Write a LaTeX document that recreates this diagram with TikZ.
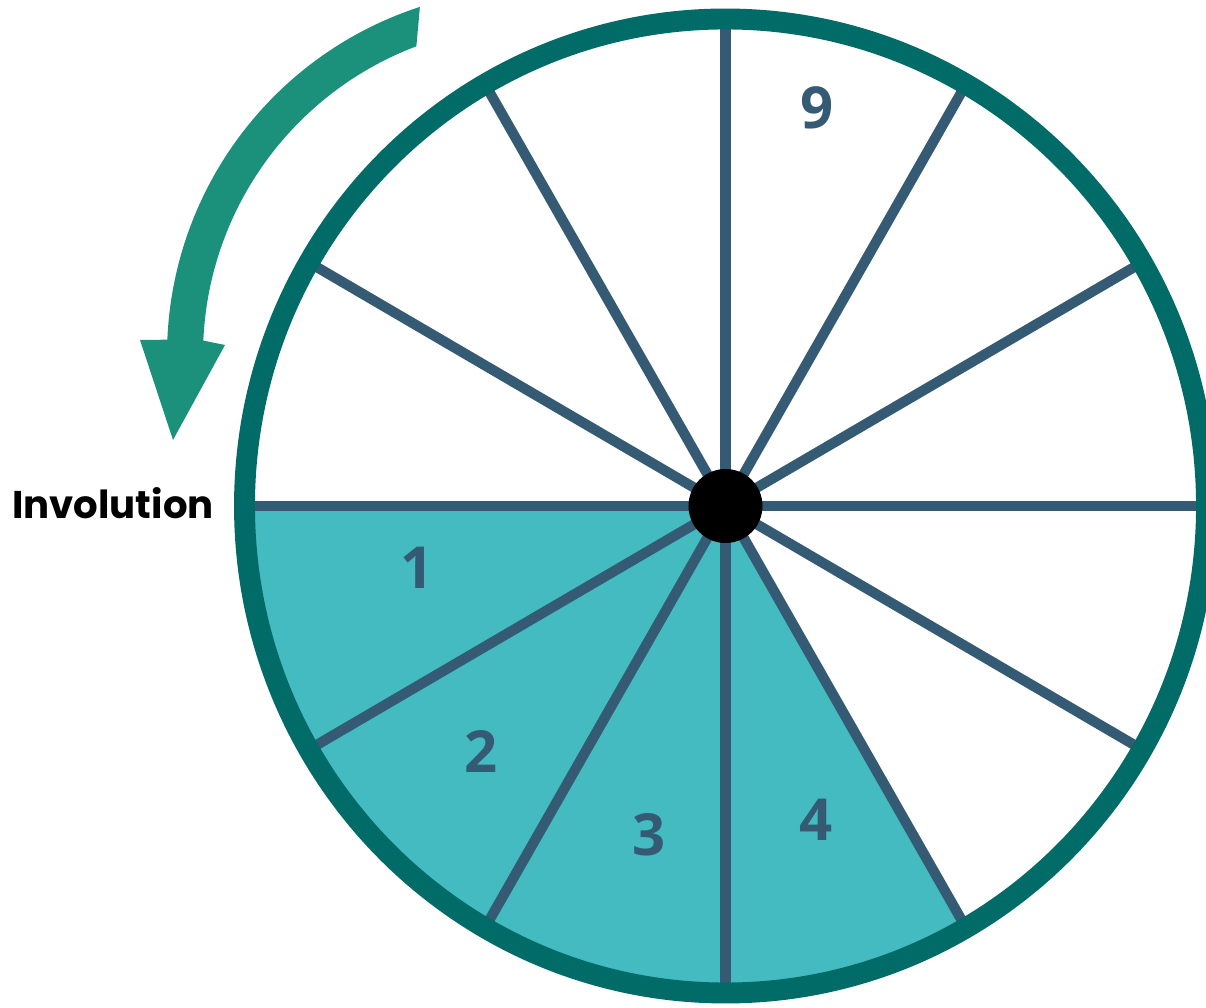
\documentclass[tikz,border=0pt]{standalone}
\usepackage{fontspec}
\usepackage{tikz}
\usetikzlibrary{positioning}
\newfontfamily\wnumfont{Open Sans}
\newfontfamily\wtextfont{Poppins}
\definecolor{wrim}  {HTML}{006B67}
\definecolor{wspoke}{HTML}{345A74}
\definecolor{wfill} {HTML}{43BBC0}
\definecolor{warrow}{HTML}{1B917B}
\tikzset{
  wrim/.style={draw=wrim, line width=11.9pt},
  wspoke/.style={draw=wspoke, line width=5.8pt},
  wsector/.style={fill=wfill},
  wnum/.style={text=wspoke, font=\wnumfont\bfseries\fontsize{33}{35}\selectfont, inner sep=0pt},
  wlabel/.style={text=black, font=\wtextfont\bfseries\fontsize{22}{25}\selectfont, inner sep=0pt},
  warrowshape/.style={fill=warrow},
}
\begin{document}
\begin{tikzpicture}[x=0.02cm,y=0.02cm]
  \useasboundingbox (0,0) rectangle (1206,1007);
  \coordinate (hub) at (725.5,501);
  \coordinate (bend) at (533,652);
  % the four shaded slices
  \fill[wsector] (hub) -- ++(180:481 and 487)
    arc[start angle=180, end angle=300, x radius=481, y radius=487] -- cycle;
  % spokes
  \foreach \a in {0,30,...,330}
    \draw[wspoke] (hub) -- ++(\a:481 and 487);
  % rim and hub
  \draw[wrim] (hub) ellipse[x radius=481, y radius=487];
  \fill[black] (hub) circle[radius=37];
  % slice numbers
  \node[wnum] (n1) at (417,439) {1};
  \node[wnum] (n2) at (481,255) {2};
  \node[wnum] (n3) at (649,172) {3};
  \node[wnum] (n4) at (816,187) {4};
  \node[wnum] (n9) at (817,899) {9};
  \node[wlabel] (inv) at (113,504) {Involution};
  % turning arrow
  \fill[warrowshape] ([shift={(108:366)}]bend)
    arc[start angle=108, end angle=177.6, radius=366]
    -- (140,667) -- (173,567) -- (225,662)
    -- ([shift={(177.5:330)}]bend)
    arc[start angle=177.5, end angle=110.7, radius=330] -- cycle;
\end{tikzpicture}
\end{document}
